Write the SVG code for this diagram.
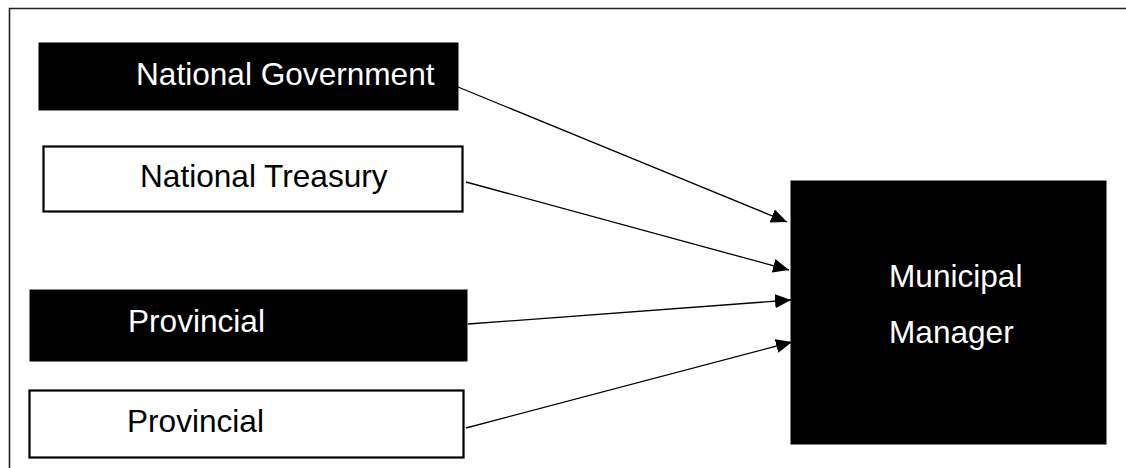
<svg xmlns="http://www.w3.org/2000/svg" width="1126" height="468" viewBox="0 0 1126 468">
  <style>
    .lbl { font-family: "Liberation Sans", Arial, sans-serif; font-size: 31.6px; }
    .dark rect { fill: #000; stroke: #000; }
    .dark text { fill: #fff; }
    .light rect { fill: #fff; stroke: #000; stroke-width: 2.2; }
    .light text { fill: #000; }
    .conn line { stroke: #000; stroke-width: 1.3; fill: none; }
    .frame { stroke: #222; stroke-width: 1.6; fill: none; }
  </style>
  <defs>
    <marker id="arrow" markerUnits="userSpaceOnUse" markerWidth="16" markerHeight="14" refX="16" refY="7" orient="auto">
      <path d="M0,0 L16,7 L0,14 Z" fill="#000"/>
    </marker>
  </defs>
  <rect width="1126" height="468" fill="#fff"/>
  <path class="frame" d="M9.5,468 L9.5,8.5 L1126,8.5"/>

  <g id="national-government" class="dark">
    <rect x="39" y="43" width="419" height="67"/>
    <text class="lbl" x="136" y="85">National Government</text>
  </g>
  <g id="national-treasury" class="light">
    <rect x="43.5" y="146.5" width="419" height="65"/>
    <text class="lbl" x="140" y="187">National Treasury</text>
  </g>
  <g id="provincial-1" class="dark">
    <rect x="30" y="290" width="437" height="71"/>
    <text class="lbl" x="128" y="332">Provincial</text>
  </g>
  <g id="provincial-2" class="light">
    <rect x="29.5" y="390.5" width="434" height="67"/>
    <text class="lbl" x="127" y="432">Provincial</text>
  </g>
  <g id="municipal-manager" class="dark">
    <rect x="791" y="181" width="315" height="263"/>
    <text class="lbl" x="889" y="287">Municipal</text>
    <text class="lbl" x="889" y="343">Manager</text>
  </g>

  <g id="connectors" class="conn">
    <line x1="458" y1="87" x2="787" y2="222" marker-end="url(#arrow)"/>
    <line x1="466" y1="182" x2="789" y2="270" marker-end="url(#arrow)"/>
    <line x1="468" y1="324" x2="791" y2="300" marker-end="url(#arrow)"/>
    <line x1="466" y1="428" x2="792" y2="342" marker-end="url(#arrow)"/>
  </g>
</svg>
